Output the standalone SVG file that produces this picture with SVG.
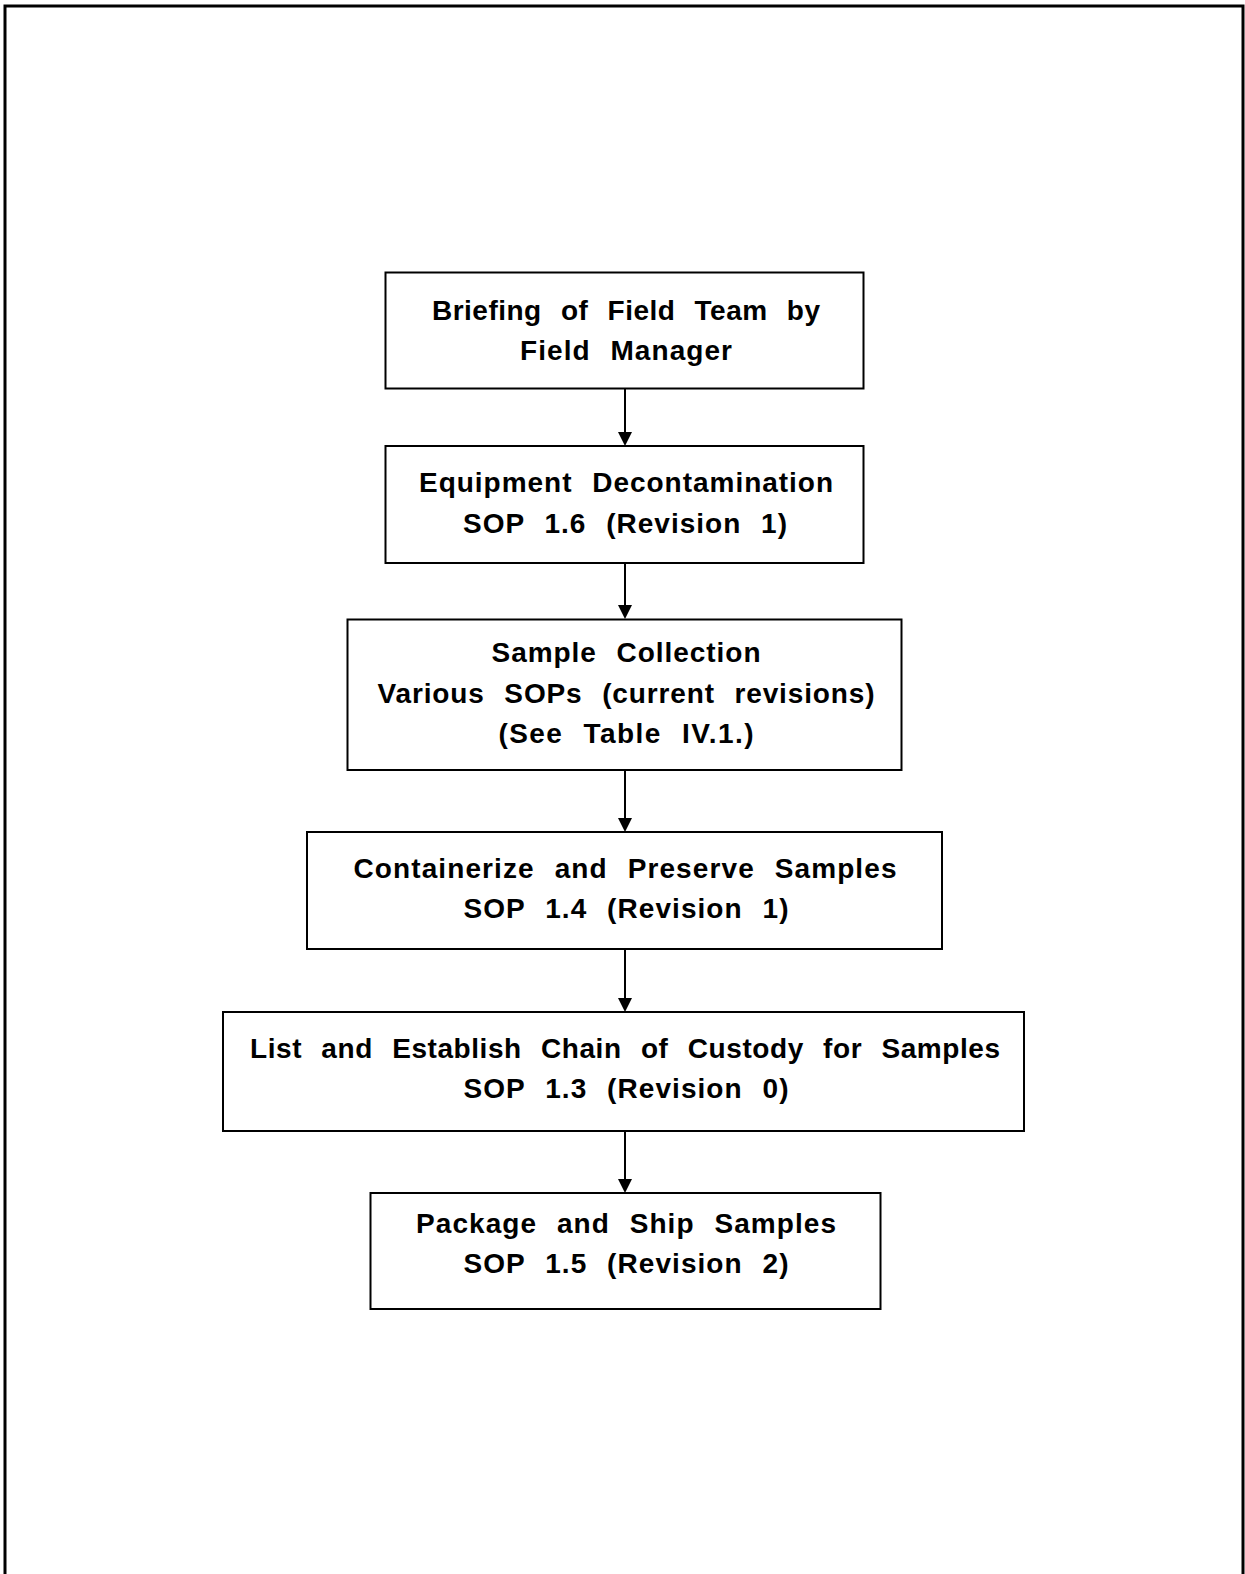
<svg xmlns="http://www.w3.org/2000/svg" width="1245" height="1574" viewBox="0 0 1245 1574">
<style>
.box{fill:#fff;stroke:#000;stroke-width:2}
.t{font-family:"Liberation Sans",Arial,sans-serif;font-weight:bold;font-size:28px;text-anchor:middle;fill:#000;word-spacing:11px}
.c{stroke:#000;stroke-width:2;fill:none}
</style>
<rect width="1245" height="1574" fill="#fff"/>
<path d="M5,1574 V6 H1243 V1574" fill="none" stroke="#000" stroke-width="3"/>
<g id="connectors">
<line class="c" x1="625" y1="388" x2="625" y2="434"/><path d="M618,432 L632,432 L625,446 Z"/>
<line class="c" x1="625" y1="563" x2="625" y2="607"/><path d="M618,605 L632,605 L625,619 Z"/>
<line class="c" x1="625" y1="770" x2="625" y2="820"/><path d="M618,818 L632,818 L625,832 Z"/>
<line class="c" x1="625" y1="949" x2="625" y2="1000"/><path d="M618,998 L632,998 L625,1012 Z"/>
<line class="c" x1="625" y1="1131" x2="625" y2="1181"/><path d="M618,1179 L632,1179 L625,1193 Z"/>
</g>
<g id="n1">
<rect class="box" x="385.5" y="272.5" width="478" height="116"/>
<text class="t" x="626" y="320" textLength="388" lengthAdjust="spacing">Briefing of Field Team by</text>
<text class="t" x="626" y="360" textLength="212" lengthAdjust="spacing">Field Manager</text>
</g>
<g id="n2">
<rect class="box" x="385.5" y="446" width="478" height="117"/>
<text class="t" x="626" y="492" textLength="414" lengthAdjust="spacing">Equipment Decontamination</text>
<text class="t" x="625" y="533" textLength="324" lengthAdjust="spacing">SOP 1.6 (Revision 1)</text>
</g>
<g id="n3">
<rect class="box" x="347.5" y="619.5" width="554" height="150.5"/>
<text class="t" x="626" y="662" textLength="269" lengthAdjust="spacing">Sample Collection</text>
<text class="t" x="626" y="703" textLength="497" lengthAdjust="spacing">Various SOPs (current revisions)</text>
<text class="t" x="626" y="743" textLength="255" lengthAdjust="spacing">(See Table IV.1.)</text>
</g>
<g id="n4">
<rect class="box" x="307" y="832" width="635" height="117"/>
<text class="t" x="625" y="878" textLength="543" lengthAdjust="spacing">Containerize and Preserve Samples</text>
<text class="t" x="626" y="918" textLength="325" lengthAdjust="spacing">SOP 1.4 (Revision 1)</text>
</g>
<g id="n5">
<rect class="box" x="223" y="1012" width="801" height="119"/>
<text class="t" x="625" y="1058" textLength="750" lengthAdjust="spacing">List and Establish Chain of Custody for Samples</text>
<text class="t" x="626" y="1098" textLength="325" lengthAdjust="spacing">SOP 1.3 (Revision 0)</text>
</g>
<g id="n6">
<rect class="box" x="370.5" y="1193" width="510" height="116"/>
<text class="t" x="626" y="1233" textLength="420" lengthAdjust="spacing">Package and Ship Samples</text>
<text class="t" x="626" y="1273" textLength="325" lengthAdjust="spacing">SOP 1.5 (Revision 2)</text>
</g>
</svg>
